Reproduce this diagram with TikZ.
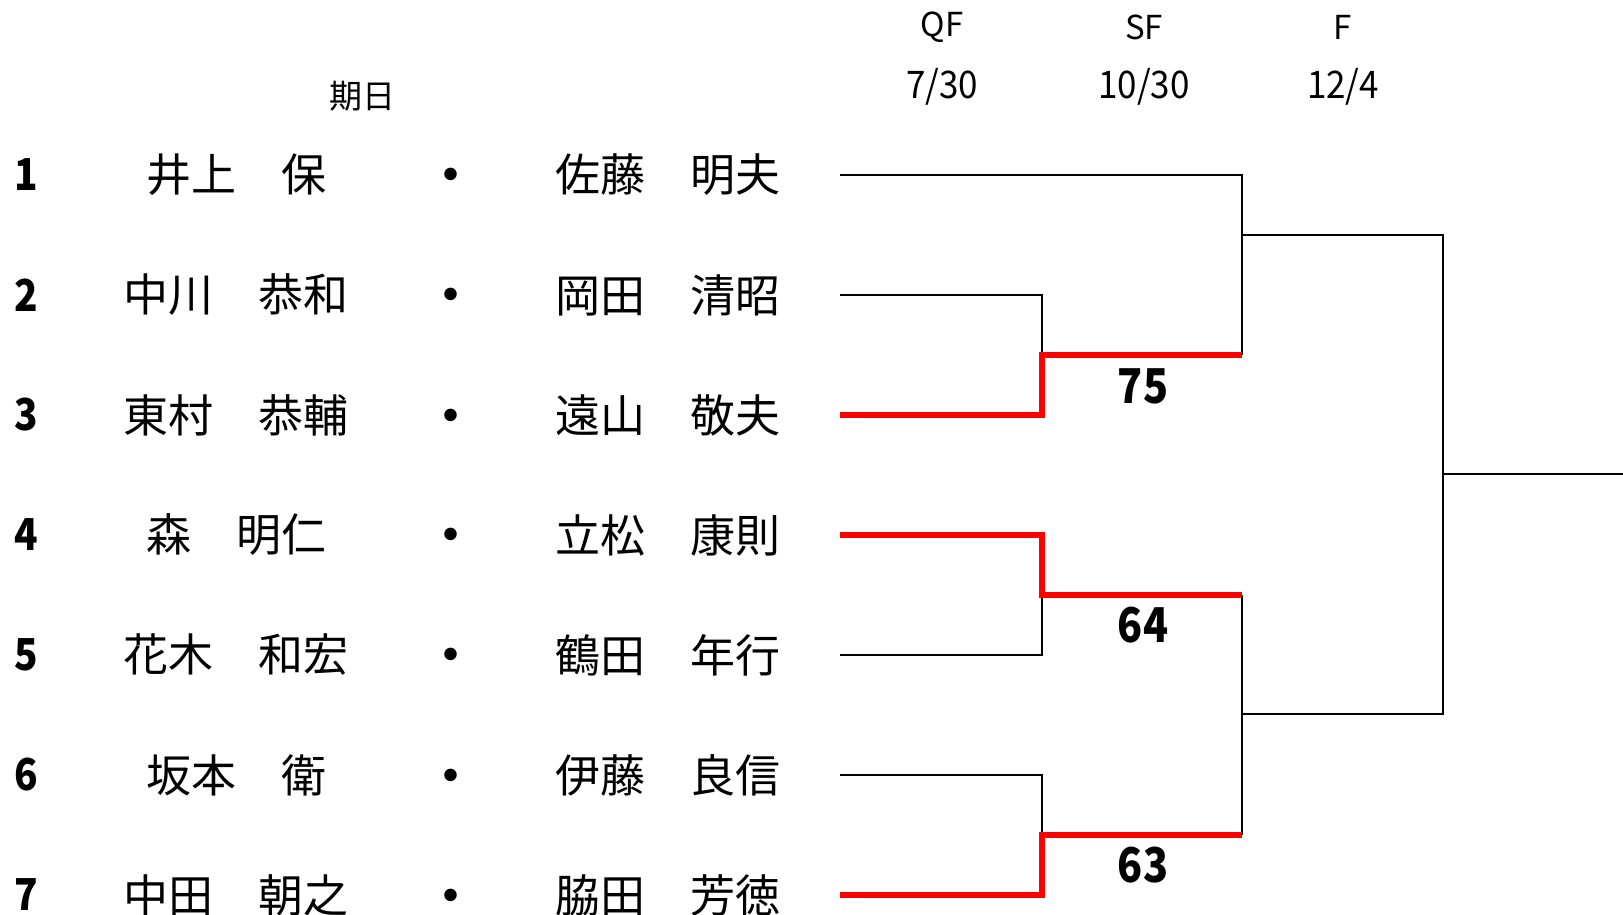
\documentclass[tikz,border=0pt]{standalone}
\usepackage{fontspec}
\usepackage{graphicx}
\setmainfont{Noto Sans CJK JP}
\begin{document}
\begin{tikzpicture}[x=1pt,y=-1pt,
  nm/.style={font=\fontsize{45}{45}\selectfont, inner sep=0pt},
  dotm/.style={font=\fontsize{45}{45}\selectfont\bfseries, inner sep=0pt, anchor=base},
  num/.style={font=\fontsize{44}{44}\selectfont\bfseries, inner sep=0pt},
  hd/.style={font=\fontsize{33}{33}\selectfont, inner sep=0pt},
  dt/.style={font=\fontsize{38}{38}\selectfont, inner sep=0pt},
  sc/.style={font=\fontsize{48}{48}\selectfont\bfseries, inner sep=0pt},
  wire/.style={line width=2.7pt, line join=miter, black},
  win/.style={line width=6pt, line join=miter, red}]
\useasboundingbox (0,0) rectangle (1623,915);
\fill[white] (0,0) rectangle (1623,915);

% headers
\node[hd] (hday) at (362,96) {期日};
\node[hd] (hqf) at (942,27) {QF};
\node[hd] (hsf) at (1144,27) {SF};
\node[hd] (hf) at (1343,27) {F};
\node[dt] (dqf) at (942,87) {\scalebox{0.92}[1]{7/30}};
\node[dt] (dsf) at (1144,87) {\scalebox{0.92}[1]{10/30}};
\node[dt] (df) at (1343,87) {\scalebox{0.92}[1]{12/4}};

% rows
\node[num] (n1) at (26,175) {\scalebox{0.88}[1]{1}};
\node[num] (n2) at (26,295) {\scalebox{0.88}[1]{2}};
\node[num] (n3) at (26,415) {\scalebox{0.88}[1]{3}};
\node[num] (n4) at (26,535) {\scalebox{0.88}[1]{4}};
\node[num] (n5) at (26,655) {\scalebox{0.88}[1]{5}};
\node[num] (n6) at (26,775) {\scalebox{0.88}[1]{6}};
\node[num] (n7) at (26,895) {\scalebox{0.88}[1]{7}};

\node[nm] (a1) at (236,175) {井上　保};
\node[nm] (a2) at (236,295) {中川　恭和};
\node[nm] (a3) at (236,415) {東村　恭輔};
\node[nm] (a4) at (236,535) {森　明仁};
\node[nm] (a5) at (236,655) {花木　和宏};
\node[nm] (a6) at (236,775) {坂本　衛};
\node[nm] (a7) at (236,895) {中田　朝之};

\coordinate (dx) at (451,0);
\node[dotm] (d1) at (a1.base -| dx) {・};
\node[dotm] (d2) at (a2.base -| dx) {・};
\node[dotm] (d3) at (a3.base -| dx) {・};
\node[dotm] (d4) at (a4.base -| dx) {・};
\node[dotm] (d5) at (a5.base -| dx) {・};
\node[dotm] (d6) at (a6.base -| dx) {・};
\node[dotm] (d7) at (a7.base -| dx) {・};

\node[nm] (b1) at (668,175) {佐藤　明夫};
\node[nm] (b2) at (668,295) {岡田　清昭};
\node[nm] (b3) at (668,415) {遠山　敬夫};
\node[nm] (b4) at (668,535) {立松　康則};
\node[nm] (b5) at (668,655) {鶴田　年行};
\node[nm] (b6) at (668,775) {伊藤　良信};
\node[nm] (b7) at (668,895) {脇田　芳徳};

% bracket coordinates
\coordinate (e1) at (840,175);
\coordinate (e2) at (840,295);
\coordinate (e3) at (840,415);
\coordinate (e4) at (840,535);
\coordinate (e5) at (840,655);
\coordinate (e6) at (840,775);
\coordinate (e7) at (840,895);
\coordinate (q1) at (1042,355);
\coordinate (q2) at (1042,595);
\coordinate (q3) at (1042,835);
\coordinate (s1) at (1242,355);
\coordinate (s2) at (1242,595);
\coordinate (s3) at (1242,835);
\coordinate (f1) at (1242,235);
\coordinate (f2) at (1242,714);
\coordinate (fa) at (1443,235);
\coordinate (fb) at (1443,714);
\coordinate (fm) at (1443,474);
\coordinate (w) at (1623,474);

% black lines
\draw[wire] (e1) -- (s1 |- e1) -- (s1);
\draw[wire] (e2) -- (q1 |- e2) -- (q1);
\draw[wire] (e5) -- (q2 |- e5) -- (q2);
\draw[wire] (e6) -- (q3 |- e6) -- (q3);
\draw[wire] (s2) -- (s3);
\draw[wire] (f1) -- (fa) -- (fb) -- (f2);
\draw[wire] (fm) -- (w);

% red winner lines
\draw[win] (e3) -- (q1 |- e3) -- (q1) -- (s1);
\draw[win] (e4) -- (q2 |- e4) -- (q2) -- (s2);
\draw[win] (e7) -- (q3 |- e7) -- (q3) -- (s3);

% scores
\node[sc] (sc1) at (1143,386) {\scalebox{0.86}[1]{75}};
\node[sc] (sc2) at (1143,625) {\scalebox{0.86}[1]{64}};
\node[sc] (sc3) at (1143,865) {\scalebox{0.86}[1]{63}};
\end{tikzpicture}
\end{document}
